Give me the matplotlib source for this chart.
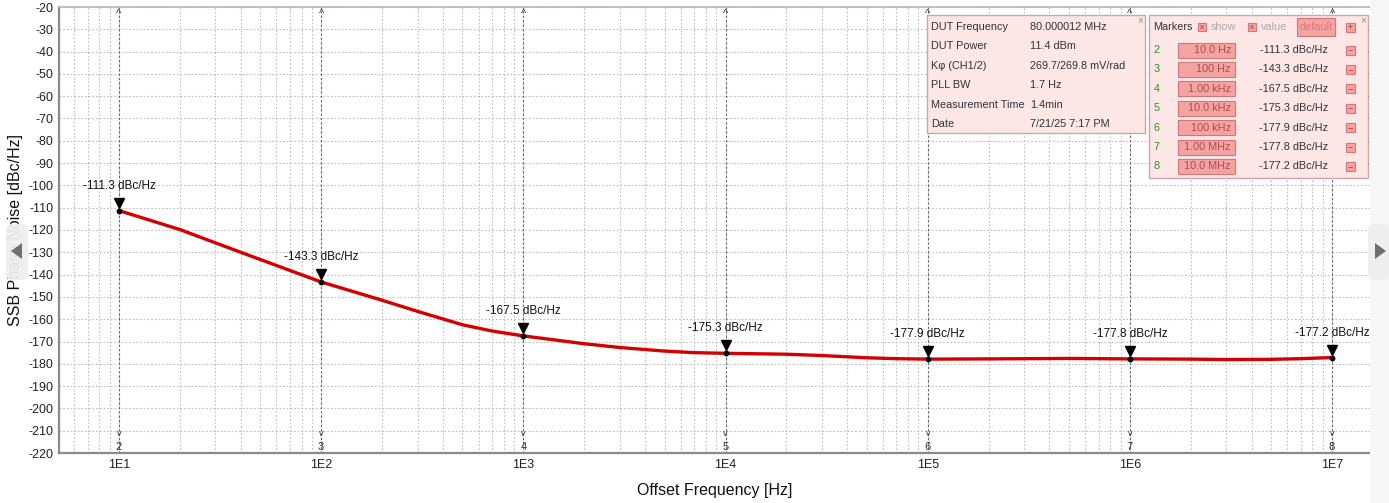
import matplotlib
matplotlib.use("Agg")
import matplotlib.pyplot as plt
from matplotlib.patches import Rectangle, FancyBboxPatch, Polygon
from matplotlib.transforms import offset_copy

plt.rcParams['font.family'] = ['Liberation Sans', 'DejaVu Sans']

# ---------------- data ----------------
freq_hz = [10, 20, 40, 100, 200, 300, 500, 700, 1000, 2000, 3000, 5000, 7000,
           1e4, 2e4, 3e4, 5e4, 7e4, 1e5, 2e5, 5e5, 1e6, 2e6, 3e6, 5e6, 7e6, 1e7]
noise_dbc = [-111.3, -119.8, -130.0, -143.3, -151.5, -156.5, -162.5, -165.3, -167.5,
             -171.0, -172.7, -174.3, -175.0, -175.3, -175.7, -176.3, -177.3, -177.7,
             -177.9, -177.8, -177.6, -177.8, -177.9, -178.1, -178.0, -177.7, -177.2]

marker_ids = ["2", "3", "4", "5", "6", "7", "8"]
marker_freq = [10, 100, 1e3, 1e4, 1e5, 1e6, 1e7]
marker_vals = [-111.3, -143.3, -167.5, -175.3, -177.9, -177.8, -177.2]
marker_freq_labels = ["10.0 Hz", "100 Hz", "1.00 kHz", "10.0 kHz", "100 kHz", "1.00 MHz", "10.0 MHz"]

xtick_vals = [10, 100, 1e3, 1e4, 1e5, 1e6, 1e7]
xtick_labels = ["1E1", "1E2", "1E3", "1E4", "1E5", "1E6", "1E7"]
ytick_vals = list(range(-220, -19, 10))

info_labels = ["DUT Frequency", "DUT Power", "K\u03c6 (CH1/2)", "PLL BW", "Measurement Time", "Date"]
info_values = ["80.000012 MHz", "11.4 dBm", "269.7/269.8 mV/rad", "1.7 Hz", "1.4min", "7/21/25 7:17 PM"]

# ---------------- figure ----------------
W, H = 1389, 503
fig = plt.figure(figsize=(W / 100, H / 100), dpi=100)
fig.patch.set_facecolor("white")

def fx(x):
    return x / W

def fy(y):
    return 1 - y / H

ax = fig.add_axes([fx(59), fy(453), fx(1370) - fx(59), fy(7) - fy(453)])
ax.set_xscale("log")
ax.set_xlim(5.05, 1.54e7)
ax.set_ylim(-220, -20)

ax.set_xticks(xtick_vals)
ax.set_xticklabels(xtick_labels, fontsize=9, color="#222")
ax.set_yticks(ytick_vals)
ax.set_yticklabels([str(v) for v in ytick_vals], fontsize=9, color="#222")
ax.tick_params(axis="both", which="both", length=0, pad=4)
ax.xaxis.set_minor_locator(matplotlib.ticker.LogLocator(base=10, subs=range(2, 10), numticks=20))
ax.xaxis.set_minor_formatter(matplotlib.ticker.NullFormatter())

ax.grid(True, which="both", color="#bdbdbd", linestyle=(0, (1.5, 1.8)), linewidth=0.8)
for s in ["left", "bottom"]:
    ax.spines[s].set_color("#8a8a8a")
    ax.spines[s].set_linewidth(1.6)
ax.spines["top"].set_color("#b8b8b8")
ax.spines["top"].set_linewidth(1.2)
ax.spines["right"].set_visible(False)

ax.set_xlabel("Offset Frequency [Hz]", fontsize=11.5, labelpad=9, color="#111")
ax.set_ylabel("SSB Phase Noise [dBc/Hz]", fontsize=11.5, labelpad=4, color="#111")

# marker vertical lines
for f, mid in zip(marker_freq, marker_ids):
    ax.axvline(f, color="#666", linestyle=(0, (2, 2)), linewidth=0.8, zorder=2)
    ax.annotate("^", (f, -20), xytext=(0, -7), textcoords="offset pixels",
                ha="center", va="center", fontsize=8, color="#333")
    ax.annotate("v", (f, -220), xytext=(0, 19), textcoords="offset pixels",
                ha="center", va="center", fontsize=6.5, color="#333")
    ax.annotate(mid, (f, -220), xytext=(0, 6), textcoords="offset pixels",
                ha="center", va="center", fontsize=8, color="#333")

# curve
ax.plot(freq_hz, noise_dbc, color="#d40000", linewidth=2.4, zorder=4, solid_capstyle="round")

# markers
ax.plot(marker_freq, marker_vals, "o", color="black", markersize=3.2, zorder=5)
tri_tr = offset_copy(ax.transData, fig=fig, x=0, y=8, units="dots")
ax.plot(marker_freq, marker_vals, "v", color="black", markersize=6.5, transform=tri_tr, zorder=5)
for f, v in zip(marker_freq, marker_vals):
    ax.annotate(f"{v:.1f} dBc/Hz", (f, v), xytext=(0, 25), textcoords="offset pixels",
                ha="center", va="center", fontsize=8.5, color="#111", zorder=6)

# ---------------- overlays (pixel coordinates) ----------------
ov = fig.add_axes([0, 0, 1, 1], zorder=10)
ov.set_xlim(0, W)
ov.set_ylim(H, 0)
ov.axis("off")
ov.patch.set_alpha(0)

box_bg = "#fde6e6"
box_ec = "#caa6a6"
btn_bg = "#f4a3a3"
btn_ec = "#d27777"

# info box
ov.add_patch(Rectangle((927, 15), 218, 118, facecolor=box_bg, edgecolor=box_ec, lw=1))
ov.text(1140, 20, "\u00d7", fontsize=7, color="#888", ha="center", va="center")
for i, (lab, val) in enumerate(zip(info_labels, info_values)):
    y = 27 + i * 19.4
    ov.text(931, y, lab, fontsize=7.8, color="#333", va="center")
    ov.text(1030, y, val, fontsize=7.8, color="#333", va="center")

# markers box
ov.add_patch(Rectangle((1149, 15), 219, 163, facecolor=box_bg, edgecolor=box_ec, lw=1))
ov.text(1363, 20, "\u00d7", fontsize=7, color="#888", ha="center", va="center")
ov.text(1153, 27, "Markers", fontsize=7.8, color="#333", va="center")
for bx, lab in [(1198, "show"), (1248, "value")]:
    ov.add_patch(Rectangle((bx, 23), 8, 8, facecolor=btn_bg, edgecolor=btn_ec, lw=0.8))
    ov.text(bx + 4, 27, "x", fontsize=6, color="#a33", ha="center", va="center")
    ov.text(bx + 13, 27, lab, fontsize=7.8, color="#aaa", va="center")
ov.add_patch(Rectangle((1297, 18), 38, 18, facecolor=btn_bg, edgecolor=btn_ec, lw=0.8))
ov.text(1316, 27, "default", fontsize=7.8, color="#e07878", ha="center", va="center")
ov.add_patch(Rectangle((1346, 23), 9, 9, facecolor=btn_bg, edgecolor=btn_ec, lw=0.8))
ov.text(1350.5, 27.5, "+", fontsize=6.5, color="#a33", ha="center", va="center")
for i, (mid, fl, v) in enumerate(zip(marker_ids, marker_freq_labels, marker_vals)):
    y = 50 + i * 19.4
    ov.text(1154, y, mid, fontsize=7.8, color="#2e8b2e", va="center")
    ov.add_patch(Rectangle((1178, y - 7.5), 57, 15, facecolor=btn_bg, edgecolor=btn_ec, lw=0.8))
    ov.text(1231, y, fl, fontsize=7.8, color="#b04a4a", ha="right", va="center")
    ov.text(1328, y, f"{v:.1f} dBc/Hz", fontsize=7.8, color="#333", ha="right", va="center")
    ov.add_patch(Rectangle((1346, y - 4.5), 9, 9, facecolor=btn_bg, edgecolor=btn_ec, lw=0.8))
    ov.text(1350.5, y, "\u2212", fontsize=6.5, color="#a33", ha="center", va="center")

# navigation buttons
ov.add_patch(FancyBboxPatch((6, 224), 22, 56, boxstyle="round,pad=0,rounding_size=6",
                            facecolor="#eeeeee", edgecolor="none", alpha=0.95))
ov.add_patch(Polygon([[22, 243], [22, 259], [11, 251]], closed=True, facecolor="#707070", edgecolor="none"))
ov.add_patch(Rectangle((1370, 0), 19, H, facecolor="#f6f6f6", edgecolor="none"))
ov.add_patch(FancyBboxPatch((1368, 224), 21, 56, boxstyle="round,pad=0,rounding_size=6",
                            facecolor="#eeeeee", edgecolor="none", alpha=0.95))
ov.add_patch(Polygon([[1375, 243], [1375, 259], [1386, 251]], closed=True, facecolor="#707070", edgecolor="none"))

fig.savefig("out.png", dpi=100)
